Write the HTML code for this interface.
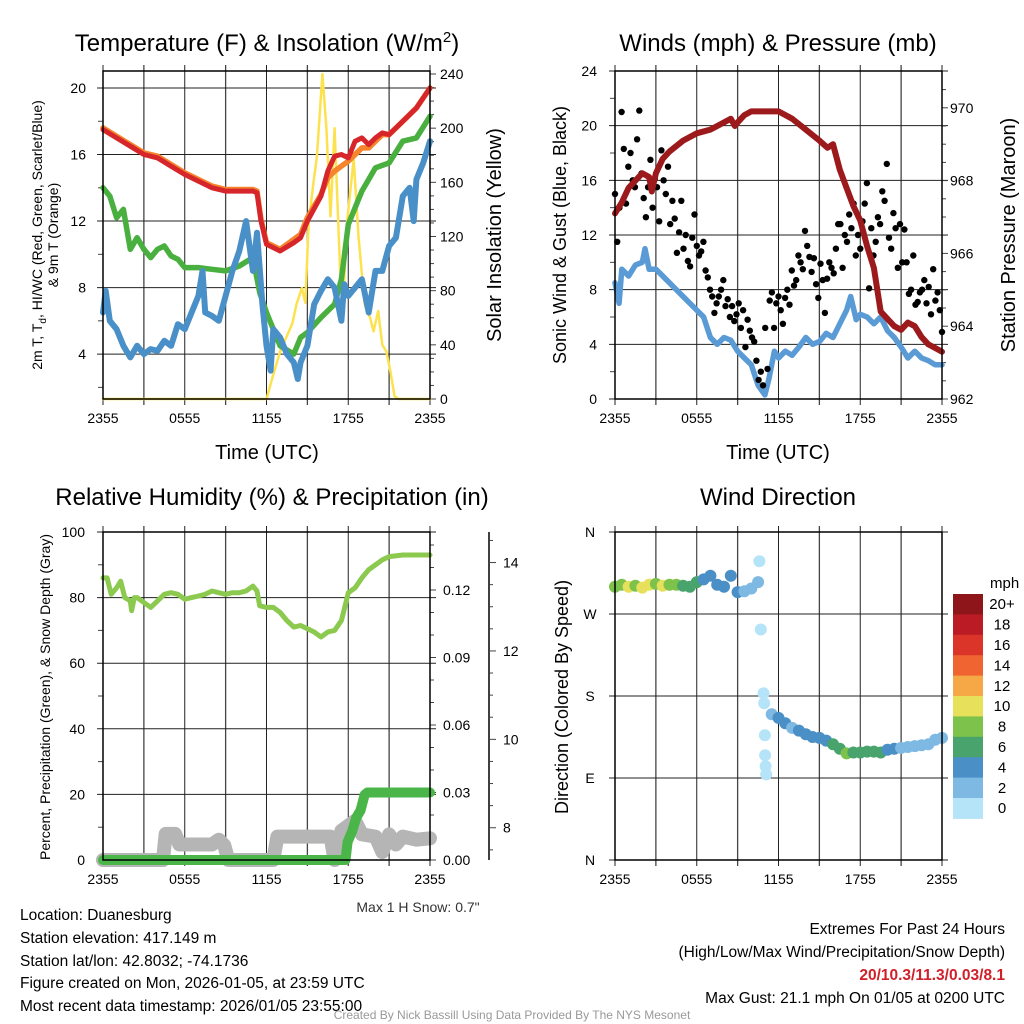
<!DOCTYPE html>
<html><head><meta charset="utf-8"><title>Duanesburg Meteogram</title>
<style>
html,body{margin:0;padding:0;background:#fff;}
svg{display:block;font-family:"Liberation Sans",Arial,sans-serif;}
.tk{font-size:14px;fill:#000;}
.ttl{font-size:24px;fill:#000;}
.ax{font-size:20px;fill:#000;}
.info{font-size:15.5px;}
</style></head>
<body>
<svg id="fig" width="1024" height="1024" viewBox="0 0 1024 1024" xmlns="http://www.w3.org/2000/svg">
<rect x="0" y="0" width="1024" height="1024" fill="#fff"/>
<g id="tl"></g>
<g id="tr"></g>
<g id="bl"></g>
<g id="br"></g>

<text class="ttl" x="267" y="51" text-anchor="middle">Temperature (F) &amp; Insolation (W/m<tspan dy="-9" font-size="15">2</tspan><tspan dy="9">)</tspan></text>
<text class="ttl" x="778" y="51" text-anchor="middle">Winds (mph) &amp; Pressure (mb)</text>
<text class="ttl" x="272" y="505" text-anchor="middle">Relative Humidity (%) &amp; Precipitation (in)</text>
<text class="ttl" x="778" y="505" text-anchor="middle">Wind Direction</text>

<text class="ax" x="267" y="459" text-anchor="middle">Time (UTC)</text>
<text class="ax" x="778" y="459" text-anchor="middle">Time (UTC)</text>

<text font-size="14" transform="translate(42,235) rotate(-90)" text-anchor="middle">2m T, T<tspan dy="4" font-size="10">d</tspan><tspan dy="-4">, HI/WC (Red, Green, Scarlet/Blue)</tspan></text>
<text font-size="14" transform="translate(58,235) rotate(-90)" text-anchor="middle">&amp; 9m T (Orange)</text>
<text class="ax" transform="translate(501,235) rotate(-90)" text-anchor="middle">Solar Insolation (Yellow)</text>
<text font-size="18" transform="translate(566,235) rotate(-90)" text-anchor="middle">Sonic Wind &amp; Gust (Blue, Black)</text>
<text class="ax" transform="translate(1015,235) rotate(-90)" text-anchor="middle">Station Pressure (Maroon)</text>
<text font-size="14" transform="translate(50,697) rotate(-90)" text-anchor="middle">Percent, Precipitation (Green), &amp; Snow Depth (Gray)</text>
<text font-size="18" transform="translate(568,697) rotate(-90)" text-anchor="middle">Direction (Colored By Speed)</text>

<text x="418" y="912" font-size="14" fill="#333" text-anchor="middle">Max 1 H Snow: 0.7"</text>
<g fill="#000">
<text class="info" x="20" y="920">Location: Duanesburg</text>
<text class="info" x="20" y="943">Station elevation: 417.149 m</text>
<text class="info" x="20" y="966">Station lat/lon: 42.8032; -74.1736</text>
<text class="info" x="20" y="988">Figure created on Mon, 2026-01-05, at 23:59 UTC</text>
<text class="info" x="20" y="1011">Most recent data timestamp: 2026/01/05 23:55:00</text>
</g>
<g>
<text class="info" x="1005" y="934" text-anchor="end" fill="#000">Extremes For Past 24 Hours</text>
<text class="info" x="1005" y="957" text-anchor="end" fill="#000">(High/Low/Max Wind/Precipitation/Snow Depth)</text>
<text class="info" x="1005" y="980" text-anchor="end" style="fill:#d0202a;font-weight:bold">20/10.3/11.3/0.03/8.1</text>
<text class="info" x="1005" y="1003" text-anchor="end" fill="#000">Max Gust: 21.1 mph On 01/05 at 0200 UTC</text>
</g>
<text x="512" y="1019" font-size="12" fill="#999" text-anchor="middle">Created By Nick Bassill Using Data Provided By The NYS Mesonet</text>
</svg>
<script>
// ---------- data ----------
const xTickLabels = ["2355","0555","1155","1755","2355"];
const tempTicks = [4,8,12,16,20];
const insolTicks = [0,40,80,120,160,200,240];
const windTicks = [0,4,8,12,16,20,24];
const presTicks = [962,964,966,968,970];
const rhTicks = [0,20,40,60,80,100];
const precipTicks = [0,0.03,0.06,0.09,0.12];
const precipTickLabels = ["0.00","0.03","0.06","0.09","0.12"];
const snowTicks = [8,10,12,14];
const dirTicks = [0,90,180,270,360];
const dirTickLabels = ["N","E","S","W","N"];

const tTimes = [0,1,2,3,4,5,6,7,8,9,10,11,11.3,11.6,12,12.5,13,14,14.5,15,16,16.5,17,17.5,18,18.5,19,19.5,20,20.5,21,22,23,24];
const tempVals = [17.5,17.0,16.5,16.0,15.8,15.3,14.8,14.4,14.0,13.8,13.8,13.8,13.7,12.0,10.6,10.4,10.2,10.7,11.0,12.0,13.5,15.0,15.9,16.0,15.8,16.8,17.0,16.6,17.0,17.3,17.2,18.0,18.8,20.0];
const temp9mVals = [17.6,17.1,16.6,16.1,15.9,15.4,14.9,14.5,14.1,13.9,13.9,13.9,13.8,12.1,10.7,10.5,10.3,10.9,11.2,12.2,13.6,14.6,15.0,15.3,15.6,16.0,16.4,16.4,16.8,17.2,17.2,18.0,18.8,20.0];
const tdTimes = [0,0.5,1,1.5,2,2.5,3,3.5,4,4.5,5,5.5,6,7,8,9,10,11,11.5,12,13,14,14.5,15,16,17,17.5,18,19,20,21,22,23,24];
const tdVals = [14.0,13.5,12.2,12.7,10.3,11.0,10.3,9.8,10.3,10.5,9.9,9.7,9.2,9.2,9.1,9.0,9.3,9.8,7.7,6.5,4.5,4.0,5.0,5.3,6.2,7.0,8.5,11.8,13.8,15.2,15.5,16.8,17.0,18.3];
const wcTimes = [0,0.2,0.5,1,1.5,2,2.5,3,3.5,4,4.5,5,5.5,6,6.5,7,7.3,7.5,8,8.5,9,9.5,10,10.5,11,11.3,11.7,12,12.3,12.5,13,13.5,14,14.3,14.5,15,15.5,16,16.5,17,17.5,17.7,18,18.5,19,19.5,20,20.5,21,21.5,22,22.5,22.8,23,23.5,24];
const wcVals = [6.5,7.8,6.0,5.5,4.5,3.8,4.5,4.0,4.3,4.2,4.8,4.5,5.8,5.5,6.5,7.5,9.0,6.5,6.3,6.0,7.5,9.0,10.2,12.0,9.0,11.3,7.0,4.5,3.0,5.5,5.0,4.0,3.5,2.5,3.5,4.5,7.0,7.8,8.5,8.0,6.0,8.2,7.5,8.0,8.5,6.5,9.0,9.0,10.5,11.0,13.5,14.0,12.0,14.5,15.5,16.8];
const insTimes = [0,12,12.5,13,13.9,14.2,14.6,14.85,15.1,15.45,15.7,16.1,16.4,16.7,17.0,17.4,17.65,17.9,18.4,18.75,19.2,19.6,19.85,20.2,20.5,20.8,21.1,21.4,21.7,24];
const insVals = [0,0,18,35,56,70,82,71,130,160,179,240,200,135,200,95,76,130,177,120,70,60,50,65,40,35,20,2,0,0];

const wTimes = [0,0.3,0.5,1,1.5,2,2.2,2.5,3,3.5,4,4.5,5,5.5,6,6.5,7,7.5,8,8.5,9,9.5,10,10.5,11,11.3,11.7,12,12.5,13,13.5,14,14.5,15,15.5,16,16.5,17,17.3,17.7,18,18.5,19,19.5,20,20.5,21,21.5,22,22.5,23,23.5,24];
const windVals = [8.5,7.0,9.5,9.0,9.8,10.0,11.0,9.5,9.5,9.0,8.5,8.0,7.5,7.0,6.5,6.0,4.5,4.0,4.5,4.3,3.5,3.0,2.5,1.0,0.3,1.5,3.5,3.0,3.5,3.2,3.8,4.5,4.0,4.2,4.8,4.5,5.5,6.5,7.5,5.8,6.2,6.0,5.5,6.0,5.0,4.5,3.8,3.0,3.5,3.0,2.8,2.5,2.5];
const gustVals = [15,11.5,14,21,18.3,14.3,17,18,16,15.5,19,21.1,16.5,14.7,13.3,15.5,17.5,14,16.1,15.5,13,18.2,16,15,17,12.8,14.5,13.2,10.7,12.2,14.5,11,12,10.1,9.7,11.8,13.5,11.2,10.5,10.8,11.5,9.4,8.9,8.0,7.5,6.3,7.0,7.5,8.0,8.7,6.8,7.3,6.0,6.8,5.7,6.2,7.0,5.2,6.5,3.8,5.8,5.0,4.5,4.2,2.8,1.4,2.0,1.0,5.2,2.2,7.2,7.8,5.2,7.0,7.5,6.5,5.5,7.4,8.0,6.9,9.4,8.3,8.7,10.5,10.0,9.5,12.3,11.2,10.4,9.3,10.3,8.4,7.4,9.9,8.7,6.3,8.8,10.0,9.6,9.2,11.0,12.8,12.8,9.6,12.0,11.5,13.5,12.5,14.3,10.5,12.0,11.0,13.0,14.3,15.8,8.1,12.5,10.5,11.5,13.3,12.8,15.2,14.5,17.2,11.8,11.0,13.6,12.5,9.6,12.8,10.0,12.4,10.0,7.7,8.0,10.5,6.9,7.1,7.8,8.0,8.7,7.0,8.2,6.2,9.5,7.2,7.8,6.5,4.9];
const pTimes = [0,0.5,1,1.5,2,2.5,2.7,3,3.5,4,5,6,7,8,8.5,8.8,9,9.5,10,11,12,13,14,15,15.6,16,16.5,17,17.5,18,18.5,19,19.5,20,20.5,21,21.5,22,22.5,23,23.5,24];
const presVals = [967.1,967.4,967.8,968.0,968.2,968.1,967.7,968.2,968.6,968.8,969.1,969.3,969.4,969.6,969.7,969.5,969.6,969.8,969.9,969.9,969.9,969.7,969.4,969.1,968.9,969.0,968.3,967.8,967.3,966.9,966.2,965.6,964.4,964.2,964.0,963.9,964.1,964.0,963.7,963.5,963.4,963.3];

const rhTimes = [0,0.3,0.6,1,1.3,1.6,2,2.1,2.3,2.5,3,3.5,4,4.5,5,5.5,6,6.5,7,7.5,8,8.5,9,9.5,10,10.5,11,11.3,11.5,12,12.5,13,13.5,14,14.5,15,15.5,16,16.5,17,17.5,17.8,18,18.5,19,19.5,20,20.5,21,22,23,24];
const rhVals = [86,86,81,83,85,80,79,76,80,80,78.5,77,79,81,81.5,81,79.5,80,80.5,81,82,81.5,81,81.5,81.5,82,83.5,82,77.5,77,77,75.5,73,71,71.5,70.5,69.5,68,69.5,70,73,78,81.5,83,86,88.5,90,91.5,92.5,93,93,93];
const prTimes = [0,17.8,17.95,18.3,18.6,18.9,19.2,19.4,24];
const precipVals = [0,0,0.008,0.013,0.019,0.022,0.029,0.030,0.030];
const snTimes = [0,4.4,4.6,5.3,5.6,8.0,8.5,8.9,9.2,12.5,12.8,16.7,17.0,17.5,18.5,19.0,20.0,20.5,21.0,21.5,22.0,23.0,24];
const snowVals = [7.27,7.27,7.86,7.86,7.62,7.62,7.73,7.6,7.27,7.27,7.8,7.8,7.27,7.93,8.16,7.85,7.8,7.45,7.85,7.62,7.8,7.73,7.76];

const dTimes = [0,0.5,1,1.5,2,2.5,3,3.5,4,4.5,5,5.5,6,6.5,7,7.5,8,8.5,9,9.5,10,10.5,10.6,10.7,10.9,10.95,11.0,11.02,11.05,11.1,11.5,12,12.5,13,13.5,14,14.5,15,15.5,16,16.5,17,17.5,18,18.5,19,19.5,20,20.5,21,21.5,22,22.5,23,23.5,24];
const dirVals = [300,302,300,301,299,302,303,301,302,302,301,300,305,308,312,302,300,312,294,295,298,305,328,253,183,172,137,115,103,94,160,156,150,145,142,138,135,134,131,127,122,117,118,118,119,119,118,121,122,123,124,125,126,127,132,134];
const dirSpeeds = [8,9,10,9,10,10,9,10,8,8,7,6,6,5,4,4,4,4,4,3,2,2,1,1,0.5,0.5,0.5,0.5,0.5,0.5,3,4,4,3,4,4,4,4,5,6,7,8,7,6,7,7,6,4,4,3,3,3,2,2,2,2];
const speedBinLabels = ["0","2","4","6","8","10","12","14","16","18","20+"];
const speedColors = ["#b5e3f7","#7db9e2","#4a8fc6","#48a46c","#7dc24a","#e7e05a","#f6a847","#ef6430","#db3429","#bb1b25","#8e1519"];

// ---------- helpers ----------
const NS = "http://www.w3.org/2000/svg";
function mk(parent, tag, attrs){
  const e = document.createElementNS(NS, tag);
  for (const k in attrs) e.setAttribute(k, attrs[k]);
  parent.appendChild(e);
  return e;
}
function polyPath(times, vals, fx, fy){
  return times.map((t,i)=>(i?"L":"M")+fx(t).toFixed(1)+","+fy(vals[i]).toFixed(1)).join("");
}
function frame(g, x0, x1, y0, y1, withXLabels){
  for (let i=0;i<=8;i++){
    const x = x0 + (x1-x0)*i/8;
    const l = mk(g,"line",{x1:x,x2:x,y1:y0-6,y2:y1+6,stroke:(i%2?"#444":"#222"),"stroke-width":(i%2?1.3:1)});
    
    
  }
  if (withXLabels){
    xTickLabels.forEach((lab,i)=>{
      const x = x0 + (x1-x0)*i/4;
      const t = mk(g,"text",{x:x,y:y1+24,"text-anchor":"middle",class:"tk"});
      t.textContent = lab;
      
      
    });
  }
}
function hgrid(g, x0, x1, y){
  const l = mk(g,"line",{x1:x0-6,x2:x1+6,y1:y,y2:y,stroke:"#222","stroke-width":1});
  
  
}
function label(g, x, y, txt, anchor, name, size){
  const t = mk(g,"text",{x:x,y:y+5,"text-anchor":anchor,class:"tk"});
  if (size) t.setAttribute("font-size", size);
  t.textContent = txt;
  
  
  return t;
}
function minor(g, x, y, dx){
  const l = mk(g,"line",{x1:x,x2:x+dx,y1:y,y2:y,stroke:"#444","stroke-width":1});
  
  
}
function box(g,x0,x1,y0,y1){
  const r = mk(g,"rect",{x:x0,y:y0,width:x1-x0,height:y1-y0,fill:"none",stroke:"#000","stroke-width":1.5});
  
  
}
function line(g, d, color, w, name){
  const p = mk(g,"path",{d:d,fill:"none",stroke:color,"stroke-width":w,"stroke-linejoin":"round","stroke-linecap":"round"});
  
  
}

// ---------- temperature panel ----------
(function(){
  const g = document.getElementById("tl");
  const X0=103, X1=430, Y0=71, Y1=399;
  const xs = t => X0 + t*(X1-X0)/24;
  const ty = v => Y1 - (v-1.3)*16.63;
  const iy = v => Y1 - v*325/240;
  frame(g,X0,X1,Y0,Y1,true);
  tempTicks.forEach(v=>{ hgrid(g,X0,X1,ty(v)); label(g,86,ty(v),String(v),"end","temp-tick-label"); });
  [2,6,10,14,18].forEach(v=>minor(g,X0,ty(v),-5));
  insolTicks.forEach(v=>{ minor(g,X1,iy(v),6); label(g,440,iy(v),String(v),"start","insolation-tick-label"); });
  for (let v=10; v<240; v+=10) if (v%40) minor(g,X1,iy(v),4);
  line(g, polyPath(insTimes,insVals,xs,iy), "#fde24f", 2.5, "insolation-line");
  line(g, polyPath(tdTimes,tdVals,xs,ty), "#49b03f", 5.5, "dewpoint-line");
  line(g, polyPath(wcTimes,wcVals,xs,ty), "#4a90c8", 6, "windchill-line");
  line(g, polyPath(tTimes,temp9mVals,xs,ty), "#f5842c", 5.5, "temp-9m-line");
  line(g, polyPath(tTimes,tempVals,xs,ty), "#d7262b", 5, "temp-2m-line");
  box(g,X0,X1,Y0,Y1);
})();

// ---------- wind panel ----------
(function(){
  const g = document.getElementById("tr");
  const X0=615, X1=942, Y0=71, Y1=399;
  const xs = t => X0 + t*(X1-X0)/24;
  const wy = v => Y1 - v*13.667;
  const py = p => Y1 - (p-962)*36.4;
  frame(g,X0,X1,Y0,Y1,true);
  windTicks.forEach(v=>{ hgrid(g,X0,X1,wy(v)); label(g,597,wy(v),String(v),"end","wind-tick-label"); });
  [2,6,10,14,18,22].forEach(v=>minor(g,X0,wy(v),-5));
  presTicks.forEach(v=>{ minor(g,X1,py(v),6); label(g,950,py(v),String(v),"start","pressure-tick-label"); });
  for (let v=962.5; v<971; v+=0.5) if (v%2) minor(g,X1,py(v),4);
  line(g, polyPath(wTimes,windVals,xs,wy), "#5a9bd5", 5.5, "sonic-wind-line");
  gustVals.forEach((v,i)=>{
    const t = i*24/(gustVals.length-1);
    const c = mk(g,"circle",{cx:xs(t).toFixed(1),cy:wy(v).toFixed(1),r:3.2,fill:"#000"});
    
    
  });
  line(g, polyPath(pTimes,presVals,xs,py), "#9c1a1c", 6, "pressure-line");
  box(g,X0,X1,Y0,Y1);
})();

// ---------- humidity panel ----------
(function(){
  const g = document.getElementById("bl");
  const X0=103, X1=430, Y0=532, Y1=860;
  const xs = t => X0 + t*(X1-X0)/24;
  const ry = v => Y1 - v*3.28;
  const py = p => Y1 - p*2250;
  const sy = s => Math.min(Y1, Y1 - (s-7.27)*44.2);
  frame(g,X0,X1,Y0,Y1,true);
  rhTicks.forEach(v=>{ hgrid(g,X0,X1,ry(v)); label(g,85,ry(v),String(v),"end","rh-tick-label"); });
  [10,30,50,70,90].forEach(v=>minor(g,X0,ry(v),-5));
  precipTicks.forEach((v,i)=>{ minor(g,X1,py(v),6); label(g,443,py(v),precipTickLabels[i],"start","precip-tick-label"); });
  for (let v=0.01; v<0.145; v+=0.01) minor(g,X1,py(v),4);
  const ax = mk(g,"line",{x1:489,x2:489,y1:Y0,y2:Y1,stroke:"#000","stroke-width":1.5});
  
  
  snowTicks.forEach(v=>{ minor(g,489,sy(v),7); label(g,503,sy(v),String(v),"start","snow-tick-label"); });
  for (let v=7.5; v<14.6; v+=0.5) if (v%2) minor(g,489,sy(v),4);
  line(g, polyPath(snTimes,snowVals,xs,sy), "#b5b5b5", 14, "snow-depth-line");
  line(g, polyPath(prTimes,precipVals,xs,py), "#4ab548", 10, "precip-line");
  line(g, polyPath(rhTimes,rhVals,xs,ry), "#8cc94f", 5, "rh-line");
  box(g,X0,X1,Y0,Y1);
})();

// ---------- direction panel ----------
(function(){
  const g = document.getElementById("br");
  const X0=615, X1=942, Y0=532, Y1=860;
  const xs = t => X0 + t*(X1-X0)/24;
  const dy = d => Y1 - d*328/360;
  frame(g,X0,X1,Y0,Y1,true);
  dirTicks.forEach((v,i)=>{ hgrid(g,X0,X1,dy(v)); label(g,590,dy(v),dirTickLabels[i],"middle","direction-tick-label",16); });
  dirVals.forEach((d,i)=>{
    const bin = Math.min(10, Math.floor(dirSpeeds[i]/2));
    const c = mk(g,"circle",{cx:xs(dTimes[i]).toFixed(1),cy:dy(d).toFixed(1),r:6,fill:speedColors[bin]});
    
    
  });
  box(g,X0,X1,Y0,Y1);
  const cbTop=594, cbH=20.4;
  const mph = mk(g,"text",{x:990,y:588,"text-anchor":"start","font-size":15});
  mph.textContent = "mph";
  
  
  speedBinLabels.forEach((lab,i)=>{
    const idx = 10-i;
    const y = cbTop + i*cbH;
    const r = mk(g,"rect",{x:953,y:y.toFixed(1),width:30,height:(cbH+0.5).toFixed(1),fill:speedColors[idx]});
    
    
    const t = mk(g,"text",{x:1002,y:(y+cbH/2+5).toFixed(1),"text-anchor":"middle","font-size":15});
    t.textContent = speedBinLabels[idx];
    
    
  });
})();
</script>
</body></html>
